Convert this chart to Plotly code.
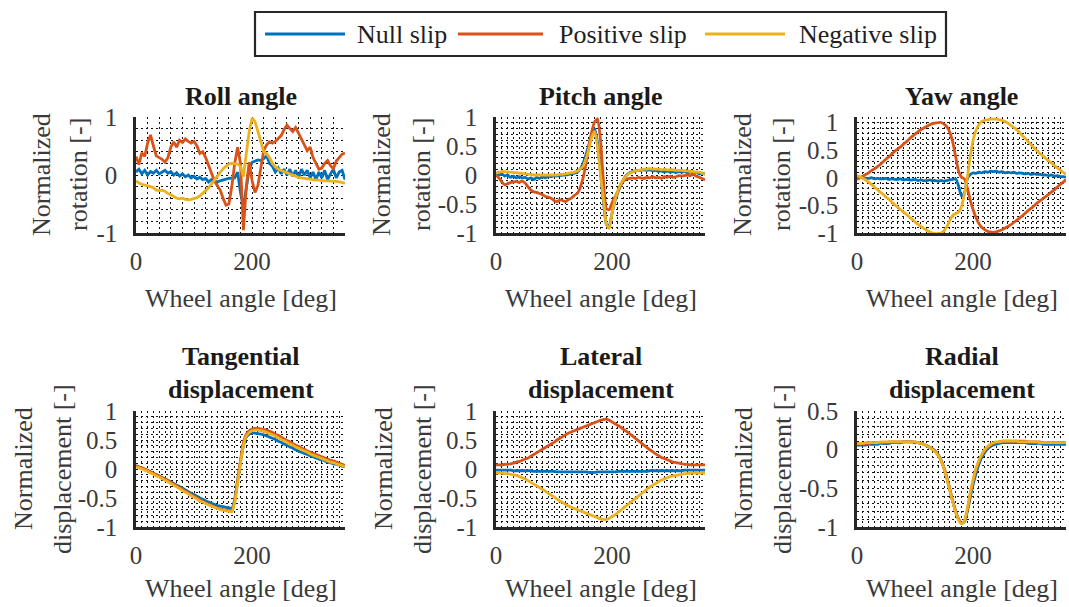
import plotly.graph_objects as go

# ---------------------------------------------------------------- data
angle = list(range(0, 361, 5))  # wheel angle [deg]

roll_null = [0.05, 0.10, 0.02, 0.08, 0.00, 0.06, 0.03, 0.08, 0.02, 0.05, 0.08, 0.03, 0.06, 0.00, 0.04,
             -0.02, 0.02, -0.03, 0.00, -0.05, -0.02, -0.07, -0.04, -0.08, -0.06, -0.12, -0.08, -0.10, -0.12,
             -0.10, -0.08, -0.07, -0.06, -0.06, -0.05, 0.05, -0.30, -0.55, -0.20, 0.10, 0.22, 0.24, 0.26,
             0.25, 0.28, 0.33, 0.20, 0.15, 0.05, 0.12, 0.02, 0.10, 0.00, 0.10, -0.02, 0.08, -0.05, 0.10,
             0.00, 0.08, -0.05, 0.05, -0.08, 0.05, -0.05, 0.08, -0.08, 0.02, 0.10, -0.05, 0.05, 0.08, -0.08]
roll_pos = [0.32, 0.18, 0.38, 0.32, 0.55, 0.69, 0.50, 0.33, 0.30, 0.27, 0.22, 0.30, 0.48, 0.57, 0.48,
            0.60, 0.56, 0.62, 0.58, 0.55, 0.58, 0.50, 0.37, 0.40, 0.30, 0.17, 0.02, -0.10, -0.18, -0.26,
            -0.40, -0.52, -0.50, -0.20, 0.20, 0.48, 0.20, -0.95, -0.20, 0.22, -0.10, -0.30, -0.18, 0.15,
            0.42, 0.52, 0.57, 0.55, 0.58, 0.63, 0.68, 0.78, 0.86, 0.80, 0.75, 0.82, 0.72, 0.60, 0.50,
            0.42, 0.48, 0.30, 0.20, 0.10, 0.12, 0.20, 0.25, 0.16, 0.11, 0.24, 0.30, 0.36, 0.38]
roll_neg = [-0.10, -0.14, -0.16, -0.17, -0.19, -0.20, -0.22, -0.26, -0.27, -0.26, -0.28, -0.32, -0.34,
            -0.37, -0.40, -0.41, -0.40, -0.42, -0.43, -0.42, -0.41, -0.39, -0.36, -0.32, -0.27, -0.22,
            -0.15, -0.08, -0.01, 0.05, 0.11, 0.15, 0.19, 0.20, 0.20, 0.19, 0.15, -0.03, 0.37, 0.75, 0.98,
            0.92, 0.75, 0.55, 0.40, 0.37, 0.30, 0.20, 0.14, 0.10, 0.08, 0.05, 0.03, 0.01, -0.01, -0.03,
            -0.04, -0.05, -0.06, -0.06, -0.07, -0.08, -0.09, -0.09, -0.10, -0.10, -0.10, -0.10, -0.11,
            -0.11, -0.12, -0.13, -0.14]

pitch_null = [0.02, 0.00, 0.02, -0.02, 0.00, -0.04, -0.02, -0.05, -0.03, -0.05, -0.04, -0.07, -0.05,
              -0.08, -0.04, -0.06, -0.03, -0.05, -0.02, -0.03, -0.01, -0.02, -0.01, 0.00, 0.00, 0.01,
              0.02, 0.03, 0.05, 0.10, 0.20, 0.35, 0.52, 0.70, 0.80, 0.55, 0.05, -0.45, -0.85, -0.88,
              -0.65, -0.45, -0.30, -0.17, -0.07, 0.00, 0.04, 0.06, 0.07, 0.08, 0.08, 0.09, 0.08, 0.09,
              0.07, 0.08, 0.06, 0.07, 0.05, 0.07, 0.05, 0.06, 0.04, 0.06, 0.05, 0.06, 0.04, 0.05, 0.03,
              0.05, 0.02, 0.03, 0.02]
pitch_pos = [0.00, -0.05, -0.12, -0.17, -0.15, -0.13, -0.12, -0.11, -0.13, -0.10, -0.14, -0.20, -0.26,
             -0.29, -0.30, -0.32, -0.34, -0.37, -0.38, -0.40, -0.44, -0.46, -0.43, -0.44, -0.46, -0.42,
             -0.40, -0.35, -0.32, -0.22, -0.05, 0.20, 0.50, 0.75, 0.92, 0.97, 0.60, -0.10, -0.58, -0.60,
             -0.48, -0.38, -0.28, -0.17, -0.10, -0.07, -0.06, -0.05, -0.06, -0.04, -0.05, -0.06, -0.04,
             -0.05, -0.03, -0.05, -0.04, -0.06, -0.03, -0.04, -0.02, -0.04, -0.03, -0.01, -0.02, -0.01,
             0.00, -0.01, 0.01, -0.02, -0.04, -0.06, -0.08]
pitch_neg = [0.03, 0.05, 0.06, 0.06, 0.05, 0.05, 0.04, 0.04, 0.03, 0.03, 0.02, 0.01, 0.01, 0.00, 0.00,
             0.00, 0.00, 0.00, 0.00, 0.00, 0.00, 0.00, 0.01, 0.01, 0.02, 0.03, 0.04, 0.05, 0.07, 0.10,
             0.15, 0.28, 0.45, 0.65, 0.75, 0.48, 0.00, -0.40, -0.85, -0.92, -0.65, -0.43, -0.27, -0.15,
             -0.07, -0.01, 0.03, 0.05, 0.07, 0.08, 0.09, 0.10, 0.10, 0.11, 0.10, 0.10, 0.10, 0.09, 0.10,
             0.09, 0.09, 0.09, 0.08, 0.08, 0.08, 0.07, 0.07, 0.06, 0.06, 0.05, 0.05, 0.03, 0.01]

yaw_null = [0.00, 0.01, 0.00, -0.01, -0.01, 0.00, -0.02, -0.01, -0.02, -0.02, -0.01, -0.03, -0.02,
            -0.03, -0.03, -0.02, -0.04, -0.03, -0.04, -0.04, -0.03, -0.05, -0.04, -0.05, -0.05, -0.04,
            -0.05, -0.05, -0.06, -0.05, -0.06, -0.05, -0.04, -0.03, -0.02, -0.15, -0.33, -0.28, -0.02,
            0.06, 0.09, 0.08, 0.10, 0.09, 0.11, 0.10, 0.12, 0.11, 0.12, 0.10, 0.11, 0.09, 0.10, 0.09,
            0.10, 0.08, 0.09, 0.08, 0.07, 0.08, 0.06, 0.07, 0.06, 0.06, 0.05, 0.05, 0.04, 0.05, 0.03,
            0.04, 0.02, 0.02, 0.01]
yaw_pos = [-0.03, 0.00, 0.03, 0.06, 0.09, 0.13, 0.16, 0.20, 0.24, 0.29, 0.34, 0.38, 0.43, 0.48, 0.52,
           0.56, 0.61, 0.65, 0.70, 0.75, 0.79, 0.83, 0.87, 0.90, 0.93, 0.96, 0.98, 0.99, 1.00, 1.00,
           0.97, 0.92, 0.82, 0.64, 0.38, 0.12, 0.01, -0.02, -0.18, -0.40, -0.58, -0.72, -0.83, -0.90,
           -0.94, -0.97, -0.98, -0.99, -0.98, -0.96, -0.94, -0.91, -0.88, -0.85, -0.81, -0.77, -0.73,
           -0.69, -0.64, -0.59, -0.55, -0.51, -0.46, -0.42, -0.38, -0.34, -0.30, -0.26, -0.22, -0.17,
           -0.12, -0.08, -0.03]
yaw_neg = [0.04, 0.02, -0.01, -0.04, -0.08, -0.12, -0.17, -0.21, -0.26, -0.30, -0.35, -0.39, -0.44,
           -0.49, -0.53, -0.58, -0.62, -0.66, -0.71, -0.75, -0.80, -0.84, -0.88, -0.92, -0.95, -0.98,
           -1.00, -1.01, -1.01, -1.00, -0.96, -0.88, -0.77, -0.68, -0.65, -0.62, -0.52, -0.30, 0.00,
           0.38, 0.68, 0.86, 0.96, 1.02, 1.04, 1.05, 1.06, 1.06, 1.06, 1.05, 1.04, 1.02, 0.99, 0.95,
           0.91, 0.87, 0.82, 0.76, 0.71, 0.65, 0.60, 0.54, 0.49, 0.44, 0.40, 0.35, 0.31, 0.27, 0.22,
           0.18, 0.14, 0.10, 0.06]

tang_null = [0.05, 0.03, 0.01, -0.01, -0.03, -0.05, -0.08, -0.10, -0.12, -0.15, -0.17, -0.20, -0.22,
             -0.25, -0.28, -0.30, -0.33, -0.36, -0.39, -0.42, -0.44, -0.47, -0.50, -0.52, -0.55, -0.57,
             -0.59, -0.61, -0.63, -0.64, -0.65, -0.66, -0.67, -0.68, -0.52, -0.20, 0.12, 0.40, 0.55,
             0.60, 0.62, 0.62, 0.61, 0.60, 0.59, 0.57, 0.55, 0.53, 0.51, 0.48, 0.46, 0.43, 0.41, 0.38,
             0.36, 0.33, 0.31, 0.29, 0.27, 0.25, 0.23, 0.21, 0.19, 0.17, 0.16, 0.14, 0.12, 0.11, 0.09,
             0.08, 0.07, 0.05, 0.04]
tang_pos = [0.06, 0.04, 0.02, 0.00, -0.02, -0.05, -0.07, -0.10, -0.12, -0.15, -0.17, -0.20, -0.23,
            -0.26, -0.29, -0.32, -0.35, -0.38, -0.41, -0.44, -0.47, -0.50, -0.53, -0.56, -0.58, -0.61,
            -0.63, -0.65, -0.67, -0.69, -0.70, -0.71, -0.72, -0.73, -0.55, -0.20, 0.15, 0.45, 0.60,
            0.66, 0.69, 0.70, 0.70, 0.69, 0.68, 0.67, 0.65, 0.63, 0.60, 0.58, 0.55, 0.52, 0.49, 0.47,
            0.44, 0.41, 0.39, 0.36, 0.34, 0.31, 0.29, 0.27, 0.25, 0.23, 0.21, 0.19, 0.17, 0.15, 0.14,
            0.12, 0.10, 0.08, 0.06]
tang_neg = [0.04, 0.02, 0.00, -0.02, -0.04, -0.07, -0.09, -0.12, -0.14, -0.17, -0.19, -0.22, -0.25,
            -0.28, -0.31, -0.34, -0.37, -0.40, -0.43, -0.46, -0.49, -0.52, -0.55, -0.57, -0.60, -0.62,
            -0.64, -0.66, -0.68, -0.70, -0.71, -0.72, -0.73, -0.74, -0.58, -0.25, 0.10, 0.40, 0.57,
            0.63, 0.66, 0.67, 0.67, 0.66, 0.65, 0.63, 0.61, 0.59, 0.57, 0.54, 0.51, 0.49, 0.46, 0.43,
            0.41, 0.38, 0.36, 0.33, 0.31, 0.29, 0.26, 0.24, 0.22, 0.20, 0.18, 0.16, 0.14, 0.12, 0.11,
            0.09, 0.07, 0.06, 0.04]

lat_null = [-0.02, -0.02, -0.02, -0.02, -0.02, -0.02, -0.03, -0.03, -0.03, -0.03, -0.03, -0.03, -0.03,
            -0.04, -0.04, -0.04, -0.04, -0.04, -0.04, -0.04, -0.04, -0.05, -0.05, -0.05, -0.05, -0.05,
            -0.05, -0.05, -0.05, -0.05, -0.05, -0.05, -0.06, -0.06, -0.06, -0.05, -0.05, -0.05, -0.05,
            -0.05, -0.05, -0.05, -0.04, -0.04, -0.04, -0.04, -0.04, -0.04, -0.04, -0.04, -0.04, -0.04,
            -0.04, -0.03, -0.03, -0.03, -0.03, -0.03, -0.03, -0.03, -0.03, -0.03, -0.03, -0.03, -0.03,
            -0.02, -0.02, -0.02, -0.02, -0.02, -0.02, -0.02, -0.02]
lat_pos = [0.07, 0.07, 0.07, 0.08, 0.08, 0.09, 0.10, 0.12, 0.13, 0.15, 0.17, 0.19, 0.22, 0.25, 0.28,
           0.31, 0.34, 0.37, 0.40, 0.43, 0.46, 0.50, 0.53, 0.56, 0.59, 0.62, 0.64, 0.66, 0.68, 0.70,
           0.72, 0.74, 0.76, 0.78, 0.80, 0.82, 0.84, 0.85, 0.86, 0.84, 0.81, 0.78, 0.75, 0.72, 0.68,
           0.65, 0.61, 0.57, 0.53, 0.49, 0.45, 0.41, 0.37, 0.33, 0.30, 0.26, 0.23, 0.20, 0.18, 0.16,
           0.14, 0.12, 0.11, 0.10, 0.09, 0.08, 0.08, 0.07, 0.07, 0.07, 0.07, 0.07, 0.07]
lat_neg = [-0.07, -0.07, -0.07, -0.08, -0.08, -0.09, -0.10, -0.11, -0.13, -0.15, -0.17, -0.20, -0.23,
           -0.26, -0.29, -0.32, -0.35, -0.38, -0.42, -0.45, -0.48, -0.52, -0.55, -0.58, -0.61, -0.64,
           -0.66, -0.68, -0.70, -0.72, -0.74, -0.76, -0.78, -0.80, -0.82, -0.84, -0.86, -0.87, -0.87,
           -0.85, -0.82, -0.79, -0.75, -0.71, -0.67, -0.63, -0.59, -0.55, -0.51, -0.47, -0.43, -0.39,
           -0.35, -0.31, -0.28, -0.25, -0.22, -0.19, -0.17, -0.15, -0.13, -0.12, -0.11, -0.10, -0.09,
           -0.08, -0.08, -0.07, -0.07, -0.07, -0.07, -0.07, -0.07]

rad_null = [0.06, 0.06, 0.06, 0.06, 0.07, 0.07, 0.07, 0.07, 0.08, 0.08, 0.08, 0.08, 0.09, 0.09, 0.09,
            0.09, 0.10, 0.10, 0.10, 0.10, 0.09, 0.09, 0.08, 0.07, 0.05, 0.03, 0.01, -0.02, -0.07, -0.14,
            -0.24, -0.37, -0.52, -0.67, -0.80, -0.90, -0.95, -0.93, -0.80, -0.62, -0.45, -0.31, -0.19,
            -0.10, -0.04, 0.01, 0.04, 0.06, 0.07, 0.08, 0.09, 0.09, 0.09, 0.09, 0.09, 0.09, 0.09, 0.09,
            0.09, 0.08, 0.08, 0.08, 0.08, 0.08, 0.07, 0.07, 0.07, 0.07, 0.07, 0.07, 0.07, 0.07, 0.07]
rad_pos = [0.08, 0.08, 0.08, 0.08, 0.08, 0.09, 0.09, 0.09, 0.09, 0.09, 0.09, 0.10, 0.10, 0.10, 0.10,
           0.10, 0.10, 0.10, 0.10, 0.10, 0.10, 0.09, 0.08, 0.07, 0.05, 0.03, 0.01, -0.02, -0.07, -0.14,
           -0.24, -0.37, -0.52, -0.67, -0.80, -0.90, -0.95, -0.93, -0.78, -0.58, -0.40, -0.26, -0.15,
           -0.07, -0.01, 0.03, 0.06, 0.08, 0.09, 0.10, 0.11, 0.11, 0.11, 0.11, 0.11, 0.11, 0.11, 0.11,
           0.11, 0.10, 0.10, 0.10, 0.10, 0.10, 0.09, 0.09, 0.09, 0.09, 0.09, 0.09, 0.09, 0.09, 0.09]
rad_neg = [0.08, 0.08, 0.08, 0.09, 0.09, 0.09, 0.09, 0.09, 0.10, 0.10, 0.10, 0.10, 0.10, 0.10, 0.10,
           0.10, 0.10, 0.10, 0.10, 0.10, 0.10, 0.09, 0.08, 0.07, 0.05, 0.03, 0.00, -0.03, -0.08, -0.15,
           -0.25, -0.38, -0.53, -0.68, -0.81, -0.91, -0.96, -0.92, -0.76, -0.56, -0.38, -0.24, -0.14,
           -0.06, 0.00, 0.04, 0.07, 0.09, 0.10, 0.10, 0.11, 0.11, 0.11, 0.11, 0.11, 0.11, 0.10, 0.10,
           0.10, 0.10, 0.10, 0.10, 0.10, 0.09, 0.09, 0.09, 0.09, 0.09, 0.09, 0.09, 0.09, 0.09, 0.09]

series_names = ["Null slip", "Positive slip", "Negative slip"]
series_colors = ["#0072BD", "#D95319", "#EDB120"]

x_ticks = [0, 200]
y_ticks_coarse = [-1, 0, 1]
y_ticks_fine = [-1, -0.5, 0, 0.5, 1]
y_ticks_radial = [-1, -0.5, 0, 0.5]

panels = [
    dict(title=["Roll angle"], ylabel=["Normalized", "rotation [-]"],
         data=[roll_null, roll_pos, roll_neg], yrange=[-1, 1], yticks=y_ticks_coarse,
         xstep=20, ystep=0.2, row=0, col=0, ylab_x=(42, 79), smooth=0.0),
    dict(title=["Pitch angle"], ylabel=["Normalized", "rotation [-]"],
         data=[pitch_null, pitch_pos, pitch_neg], yrange=[-1, 1], yticks=y_ticks_fine,
         xstep=10, ystep=0.1, row=0, col=1, ylab_x=(382, 422), smooth=0.5),
    dict(title=["Yaw angle"], ylabel=["Normalized", "rotation [-]"],
         data=[yaw_null, yaw_pos, yaw_neg], yrange=[-1, 1.1], yticks=y_ticks_fine,
         xstep=10, ystep=0.1, row=0, col=2, ylab_x=(743, 782), smooth=0.7),
    dict(title=["Tangential", "displacement"], ylabel=["Normalized", "displacement [-]"],
         data=[tang_null, tang_pos, tang_neg], yrange=[-1, 1], yticks=y_ticks_fine,
         xstep=10, ystep=0.1, row=1, col=0, ylab_x=(23, 62), smooth=0.6),
    dict(title=["Lateral", "displacement"], ylabel=["Normalized", "displacement [-]"],
         data=[lat_null, lat_pos, lat_neg], yrange=[-1, 1], yticks=y_ticks_fine,
         xstep=10, ystep=0.1, row=1, col=1, ylab_x=(383, 422), smooth=1.0),
    dict(title=["Radial", "displacement"], ylabel=["Normalized", "displacement [-]"],
         data=[rad_null, rad_pos, rad_neg], yrange=[-1, 0.5], yticks=y_ticks_radial,
         xstep=10, ystep=0.1, row=1, col=2, ylab_x=(743, 782), smooth=0.8),
]

# ---------------------------------------------------------------- layout geometry (pixels)
W, H = 1069, 607
COL_X = [(136, 345), (496, 705), (857, 1066)]
ROW_Y = [(117, 233), (411, 527)]
XLABEL_Y = [298, 588]

FONT = "'Liberation Serif', 'Times New Roman', 'DejaVu Serif', serif"
FS = 25
AXIS_COL = "#262626"
TICK_COL = "#3a3a3a"
GRID = dict(gridcolor="#111111", griddash="2px,3px", gridwidth=1.2)


def fx(px):
    return px / W


def fy(py):
    return 1 - py / H


def fmt(v):
    return ("%g" % v)


fig = go.Figure()
annotations = []

for i, p in enumerate(panels):
    n = i + 1
    xa = "x" if n == 1 else "x%d" % n
    ya = "y" if n == 1 else "y%d" % n
    x0, x1 = COL_X[p["col"]]
    y0, y1 = ROW_Y[p["row"]]

    if p["smooth"] > 0:
        line_shape = dict(shape="spline", smoothing=p["smooth"])
    else:
        line_shape = dict(shape="linear")
    for vals, name, color in zip(p["data"], series_names, series_colors):
        fig.add_trace(go.Scatter(x=angle, y=vals, mode="lines", name=name,
                                 line=dict(color=color, width=2.8, **line_shape),
                                 xaxis=xa, yaxis=ya, showlegend=False))

    xkey = "xaxis" if n == 1 else "xaxis%d" % n
    ykey = "yaxis" if n == 1 else "yaxis%d" % n
    fig.update_layout(**{
        xkey: dict(domain=[fx(x0), fx(x1)], anchor=ya, range=[0, 360], automargin=False,
                   tickmode="array", tickvals=x_ticks, ticktext=[fmt(v) for v in x_ticks],
                   showline=True, linecolor=AXIS_COL, linewidth=2.5, ticks="",
                   showgrid=True, zeroline=False, **GRID,
                   minor=dict(tick0=0, dtick=p["xstep"], showgrid=True, **GRID),
                   tickfont=dict(family=FONT, size=FS, color=TICK_COL),
                   ticklabelstandoff=4, fixedrange=True),
        ykey: dict(domain=[fy(y1), fy(y0)], anchor=xa, range=p["yrange"], automargin=False,
                   tickmode="array", tickvals=p["yticks"], ticktext=[fmt(v) for v in p["yticks"]],
                   showline=True, linecolor=AXIS_COL, linewidth=2.5, ticks="",
                   showgrid=True, zeroline=False, **GRID,
                   minor=dict(tick0=0, dtick=p["ystep"], showgrid=True, **GRID),
                   tickfont=dict(family=FONT, size=FS, color=TICK_COL),
                   ticklabelstandoff=11, fixedrange=True),
    })

    cx = (x0 + x1) / 2
    cy = (y0 + y1) / 2

    # panel title, one annotation per line
    title_lines = p["title"]
    if len(title_lines) == 1:
        title_y = [y0 - 20]
    else:
        title_y = [y0 - 55, y0 - 22]
    for line, ty in zip(title_lines, title_y):
        annotations.append(dict(text="<b>%s</b>" % line, x=fx(cx), y=fy(ty), xref="paper", yref="paper",
                                xanchor="center", yanchor="middle", showarrow=False,
                                font=dict(family=FONT, size=FS + 1, color="#1a1a1a")))

    # y-axis label (two rotated lines)
    for line, lx in zip(p["ylabel"], p["ylab_x"]):
        annotations.append(dict(text=line, x=fx(lx), y=fy(cy), xref="paper", yref="paper",
                                xanchor="center", yanchor="middle", textangle=-90, showarrow=False,
                                font=dict(family=FONT, size=FS + 1, color=TICK_COL)))

    # x-axis label
    annotations.append(dict(text="Wheel angle [deg]", x=fx(cx), y=fy(XLABEL_Y[p["row"]]),
                            xref="paper", yref="paper", xanchor="center", yanchor="middle",
                            showarrow=False, font=dict(family=FONT, size=FS + 1, color=TICK_COL)))

# ---------------------------------------------------------------- legend box across the top
LEG_BOX = (255, 12, 946, 56)
LEG_ITEMS = [(265, 345, 355), (458, 543, 557), (705, 785, 797)]
LEG_Y = 34
shapes = [dict(type="rect", xref="paper", yref="paper",
               x0=fx(LEG_BOX[0]), x1=fx(LEG_BOX[2]), y0=fy(LEG_BOX[3]), y1=fy(LEG_BOX[1]),
               line=dict(color=AXIS_COL, width=2.2), fillcolor="white")]
for (lx0, lx1, tx), name, color in zip(LEG_ITEMS, series_names, series_colors):
    shapes.append(dict(type="line", xref="paper", yref="paper", x0=fx(lx0), x1=fx(lx1),
                       y0=fy(LEG_Y), y1=fy(LEG_Y), line=dict(color=color, width=2.8)))
    annotations.append(dict(text=name, x=fx(tx), y=fy(LEG_Y), xref="paper", yref="paper",
                            xanchor="left", yanchor="middle", showarrow=False,
                            font=dict(family=FONT, size=FS + 1, color="#1f1f1f")))

fig.update_layout(width=W, height=H, margin=dict(l=0, r=0, t=0, b=0, autoexpand=False),
                  paper_bgcolor="white", plot_bgcolor="white",
                  font=dict(family=FONT),
                  showlegend=False, annotations=annotations, shapes=shapes)

fig.write_html("out.html", config=dict(displayModeBar=False))
